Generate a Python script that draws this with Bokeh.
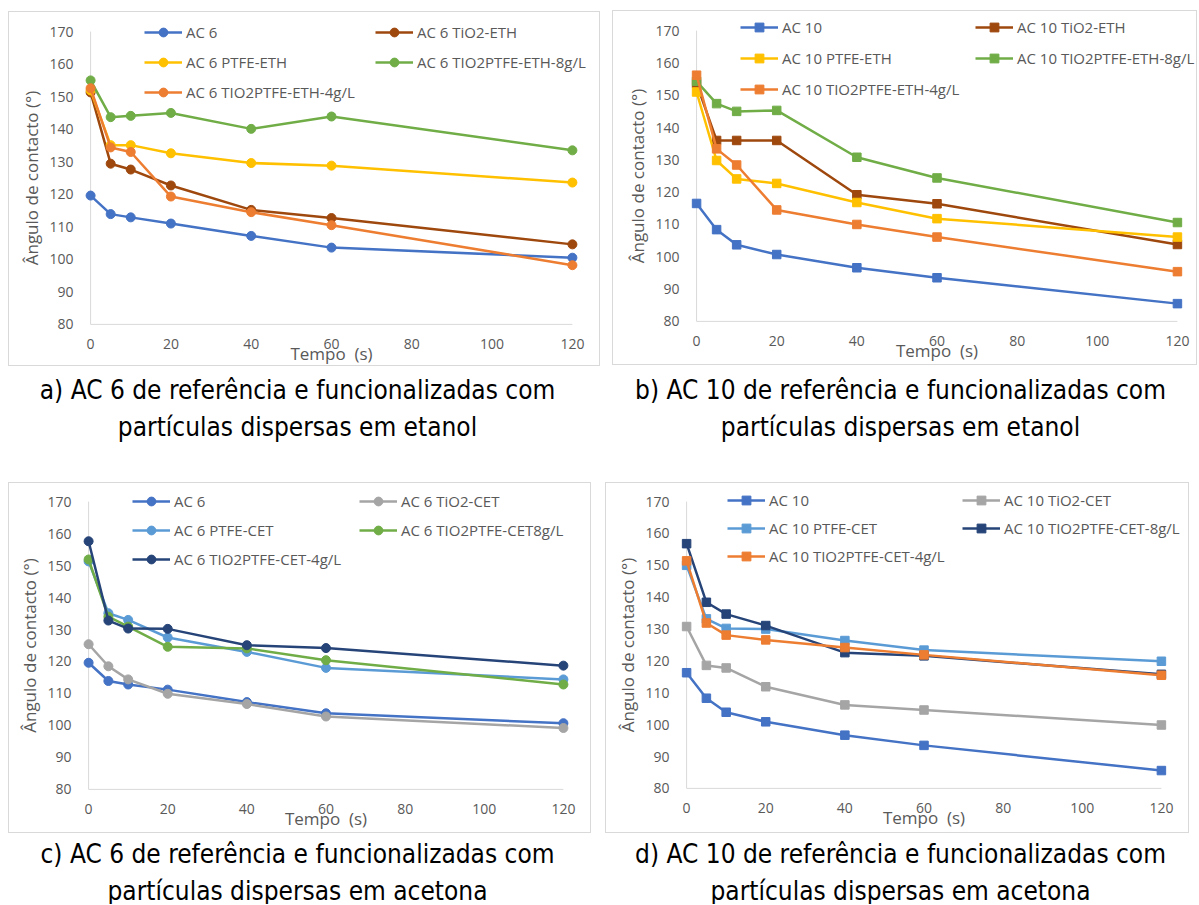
from bokeh.plotting import figure
from bokeh.models import Legend, LegendItem, FixedTicker, Range1d
from bokeh.layouts import column, row
from bokeh.embed import file_html
from bokeh.resources import INLINE
from bokeh.core.properties import value

# ---------------- data ----------------
tempo = [0, 5, 10, 20, 40, 60, 120]
x_ticks = [0, 20, 40, 60, 80, 100, 120]
y_ticks = [80, 90, 100, 110, 120, 130, 140, 150, 160, 170]

a_labels = ["AC 6", "AC 6 TiO2-ETH", "AC 6 PTFE-ETH", "AC 6 TIO2PTFE-ETH-8g/L", "AC 6 TIO2PTFE-ETH-4g/L"]
a_ac6 = [119.6, 113.9, 112.9, 111.0, 107.2, 103.6, 100.5]
a_tio2 = [151.3, 129.4, 127.6, 122.7, 115.2, 112.7, 104.6]
a_ptfe = [151.9, 135.1, 135.1, 132.6, 129.6, 128.8, 123.6]
a_8g = [155.0, 143.7, 144.1, 145.0, 140.1, 143.9, 133.5]
a_4g = [152.6, 134.4, 133.0, 119.3, 114.5, 110.5, 98.2]

b_labels = ["AC 10", "AC 10 TiO2-ETH", "AC 10 PTFE-ETH", "AC 10 TIO2PTFE-ETH-8g/L", "AC 10 TIO2PTFE-ETH-4g/L"]
b_ac10 = [116.5, 108.4, 103.7, 100.7, 96.6, 93.5, 85.5]
b_tio2 = [153.6, 136.0, 136.0, 136.0, 119.2, 116.4, 103.8]
b_ptfe = [151.0, 129.8, 124.1, 122.7, 116.8, 111.8, 106.1]
b_8g = [154.3, 147.4, 145.0, 145.3, 130.8, 124.4, 110.6]
b_4g = [156.2, 133.4, 128.4, 114.5, 110.0, 106.1, 95.4]

c_labels = ["AC 6", "AC 6 TiO2-CET", "AC 6 PTFE-CET", "AC 6 TIO2PTFE-CET8g/L", "AC 6 TIO2PTFE-CET-4g/L"]
c_ac6 = [119.6, 113.9, 112.8, 111.2, 107.3, 103.8, 100.7]
c_tio2 = [125.4, 118.5, 114.4, 109.9, 106.7, 102.8, 99.2]
c_ptfe = [151.3, 135.1, 133.0, 127.5, 123.0, 118.0, 114.4]
c_8g = [151.9, 134.0, 130.9, 124.6, 124.1, 120.4, 112.8]
c_4g = [157.6, 132.8, 130.3, 130.2, 125.1, 124.2, 118.7]

d_labels = ["AC 10", "AC 10 TiO2-CET", "AC 10 PTFE-CET", "AC 10 TIO2PTFE-CET-8g/L", "AC 10 TIO2PTFE-CET-4g/L"]
d_ac10 = [116.3, 108.3, 103.9, 100.9, 96.7, 93.5, 85.6]
d_tio2 = [130.8, 118.6, 117.8, 111.9, 106.2, 104.6, 99.9]
d_ptfe = [150.0, 133.2, 130.2, 130.0, 126.4, 123.4, 119.9]
d_8g = [156.8, 138.4, 134.7, 131.1, 122.6, 121.6, 115.8]
d_4g = [151.4, 131.9, 128.1, 126.6, 124.2, 121.9, 115.5]

captions_top = ["a) AC 6 de referência e funcionalizadas com", "partículas dispersas em etanol",
                "b) AC 10 de referência e funcionalizadas com", "partículas dispersas em etanol"]
captions_bottom = ["c) AC 6 de referência e funcionalizadas com", "partículas dispersas em acetona",
                   "d) AC 10 de referência e funcionalizadas com", "partículas dispersas em acetona"]

x_title = "Tempo\u00a0\u00a0(s)"
y_title = "Ângulo de contacto (°)"

BLUE = "#4472C4"; ORANGE = "#ED7D31"; GRAY = "#A5A5A5"; GOLD = "#FFC000"
LBLUE = "#5B9BD5"; GREEN = "#70AD47"; NAVY = "#264478"; BROWN = "#9E480E"
TXT = "#595959"
FONT = "Open Sans"
ITEM_H = 22


def make_panel(box_w, box_h, x0, x120, y170, y80, labels, series, colors, marker, msize,
               leg_x, leg_row1, pitch, col2_x):
    pps = (x120 - x0) / 120.0
    ppd = (y80 - y170) / 90.0
    ex = box_w - 3 - x120          # symmetric horizontal padding (px)
    T = 16                         # symmetric vertical padding (px)
    fl = x0 - ex; fr = x120 + ex
    ft = y170 - T; fb = y80 + T
    xr = Range1d((fl - x0) / pps, (fr - x0) / pps)
    yr = Range1d(80 - (fb - y80) / ppd, 170 + (y170 - ft) / ppd)
    p = figure(frame_width=fr - fl, frame_height=fb - ft,
               min_border_left=fl, min_border_right=box_w - fr,
               min_border_top=ft, min_border_bottom=box_h - fb,
               x_range=xr, y_range=yr, output_backend="svg", toolbar_location=None,
               title=None)
    p.styles = {"border": "1px solid #D9D9D9"}
    p.outline_line_color = None
    p.xgrid.visible = False
    p.ygrid.visible = False
    p.xaxis.ticker = FixedTicker(ticks=x_ticks)
    p.yaxis.ticker = FixedTicker(ticks=y_ticks)
    for ax in (p.xaxis[0], p.yaxis[0]):
        ax.axis_line_color = None
        ax.major_tick_line_color = None
        ax.minor_tick_line_color = None
        ax.major_tick_out = 0
        ax.major_tick_in = 0
        ax.minor_tick_out = 0
        ax.major_label_text_font = FONT
        ax.major_label_text_font_size = "14px"
        ax.major_label_text_color = TXT
        ax.axis_label_text_font = FONT
        ax.axis_label_text_font_size = "17px"
        ax.axis_label_text_font_style = "normal"
        ax.axis_label_text_color = TXT
    p.xaxis.axis_label = x_title
    p.yaxis.axis_label = y_title
    p.xaxis.major_label_standoff = int(round(y80 + 13.5 - fb))
    p.xaxis.axis_label_standoff = -10
    p.yaxis.major_label_standoff = int(17 - ex)
    p.yaxis.axis_label_standoff = 3

    # axis lines (Excel style light gray)
    p.segment(x0=[x_ticks[0], x_ticks[0]], y0=[y_ticks[0], y_ticks[0]],
              x1=[x_ticks[-1], x_ticks[0]], y1=[y_ticks[0], y_ticks[-1]],
              line_color="#D9D9D9", line_width=1)

    items = []
    for lab, ys, col in zip(labels, series, colors):
        r1 = p.line(tempo, ys, line_color=col, line_width=2.5)
        r2 = p.scatter(tempo, ys, marker=marker, size=msize, fill_color=col, line_color=col)
        items.append(LegendItem(label=lab, renderers=[r1, r2]))

    def add_leg(its, x):
        sp = int(round(pitch - ITEM_H))
        n = len(its)
        h = n * ITEM_H + (n - 1) * sp
        top = leg_row1 - ITEM_H / 2.0
        vy = int(round(fb - (top + h)))
        vx = int(round(x - fl))
        leg = Legend(items=its, location=(vx, vy), orientation="vertical",
                     glyph_width=38, glyph_height=ITEM_H, label_height=ITEM_H, label_standoff=4,
                     spacing=sp, padding=0, margin=0, border_line_color=None,
                     background_fill_alpha=0, label_text_font=FONT,
                     label_text_font_size="15px", label_text_color=TXT)
        p.add_layout(leg)

    add_leg([items[0], items[2], items[4]], leg_x)
    add_leg([items[1], items[3]], col2_x)
    return p


fa = make_panel(590, 353, 81, 561, 18, 309, a_labels, [a_ac6, a_tio2, a_ptfe, a_8g, a_4g],
                [BLUE, BROWN, GOLD, GREEN, ORANGE], "circle", 9, 135, 17, 30.5, 366)
fb = make_panel(583, 353, 83, 562, 19, 308, b_labels, [b_ac10, b_tio2, b_ptfe, b_8g, b_4g],
                [BLUE, BROWN, GOLD, GREEN, ORANGE], "square", 8.5, 127, 14, 31, 362)
fc = make_panel(581, 349, 79, 552, 17, 303, c_labels, [c_ac6, c_tio2, c_ptfe, c_8g, c_4g],
                [BLUE, GRAY, LBLUE, GREEN, NAVY], "circle", 9, 123, 15, 29, 350)
fd = make_panel(582, 349, 80, 553, 18, 303, d_labels, [d_ac10, d_tio2, d_ptfe, d_8g, d_4g],
                [BLUE, GRAY, LBLUE, NAVY, ORANGE], "square", 8.5, 121, 15, 28, 356)

fa.margin = (11, 0, 0, 8)
fb.margin = (10, 0, 0, 12)
fc.margin = (12, 0, 0, 8)
fd.margin = (12, 0, 0, 14)


def caption_fig(h, texts, ys):
    c = figure(frame_width=1199, frame_height=h, min_border=0,
               x_range=Range1d(0, 1199), y_range=Range1d(h, 0),
               output_backend="svg", toolbar_location=None, title=None,
               x_axis_location=None, y_axis_location=None)
    c.outline_line_color = None
    c.xgrid.visible = False
    c.ygrid.visible = False
    c.text(x=[297, 297, 900, 900], y=ys, text=texts, text_align="center",
           text_baseline="middle", text_font=value("DejaVu Sans Condensed"),
           text_font_size="26px", text_color="#000000")
    return c


cap1 = caption_fig(104, captions_top, [23, 60, 23, 60])
cap2 = caption_fig(71, captions_bottom, [20, 57, 20, 57])

layout = column(row(fa, fb), cap1, row(fc, fd), cap2)

with open("out.html", "w") as f:
    f.write(file_html(layout, INLINE))
